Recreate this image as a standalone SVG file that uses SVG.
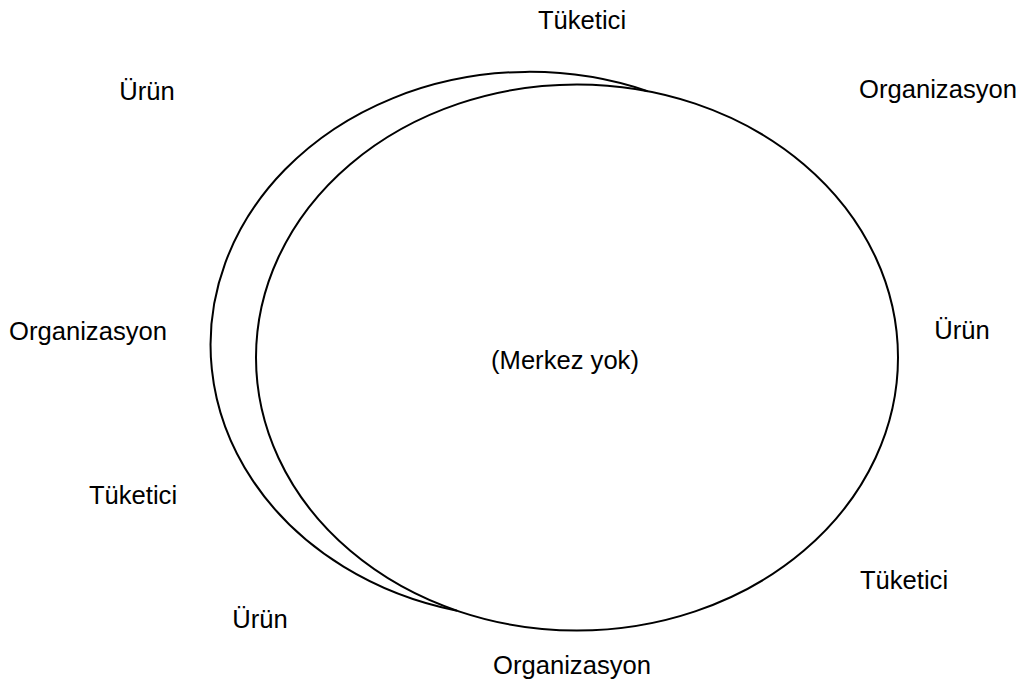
<svg xmlns="http://www.w3.org/2000/svg" width="1025" height="684" viewBox="0 0 1025 684">
<style>
.shape{fill:none;stroke:#000;stroke-width:2}
.lbl{font-family:"Liberation Sans",Arial,sans-serif;font-size:25.6px;fill:#000;text-anchor:middle}
</style>
<rect width="1025" height="684" fill="#fff"/>
<g id="connectors">
<path id="arcA" class="shape" d="M647.5 91.2 A319 273 0 1 0 457 610.7"/>
<ellipse id="ellipseB" class="shape" cx="577" cy="357.5" rx="321" ry="273"/>
</g>
<g id="n-top-tuketici"><text class="lbl" x="582" y="29">Tüketici</text></g>
<g id="n-top-urun"><text class="lbl" x="147" y="100">Ürün</text></g>
<g id="n-top-org"><text class="lbl" x="938" y="98">Organizasyon</text></g>
<g id="n-left-org"><text class="lbl" x="88" y="340">Organizasyon</text></g>
<g id="n-center"><text class="lbl" x="565" y="369">(Merkez yok)</text></g>
<g id="n-right-urun"><text class="lbl" x="962" y="339">Ürün</text></g>
<g id="n-left-tuketici"><text class="lbl" x="133" y="504">Tüketici</text></g>
<g id="n-br-tuketici"><text class="lbl" x="904" y="589">Tüketici</text></g>
<g id="n-bl-urun"><text class="lbl" x="260" y="628">Ürün</text></g>
<g id="n-bottom-org"><text class="lbl" x="572" y="674">Organizasyon</text></g>
</svg>
